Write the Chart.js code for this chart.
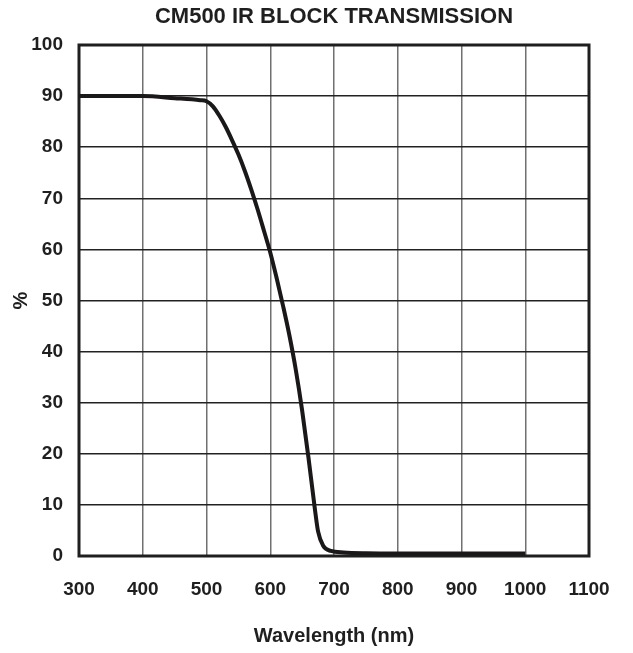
<!DOCTYPE html>
<html>
<head>
<meta charset="utf-8">
<script src="https://cdn.jsdelivr.net/npm/chart.js@4/dist/chart.umd.min.js"></script>
<style>
html,body{margin:0;padding:0;background:#fff;}
#wrap{width:633px;height:653px;position:relative;}
</style>
</head>
<body>
<div id="wrap"><canvas id="c" width="633" height="653"></canvas></div>
<script>
const titleText = "CM500 IR BLOCK TRANSMISSION";
const xTitle = "Wavelength (nm)";
const yTitle = "%";
const wavelengths = [300, 400, 450, 490, 500, 510, 520, 530, 540, 550, 560, 570, 580, 590, 600, 610, 620, 630, 640, 650, 660, 670, 675, 683, 695, 715, 750, 800, 900, 1000];
const transmission = [90, 90, 89.6, 89.2, 89.0, 88.0, 86.2, 84.0, 81.4, 78.6, 75.4, 71.8, 67.9, 63.7, 59.4, 54.4, 49.0, 43.2, 36.5, 28.5, 19.2, 9.2, 4.8, 2.0, 1.0, 0.7, 0.55, 0.5, 0.5, 0.5];
const xMin = 300, xMax = 1100, xStep = 100;
const yMin = 0, yMax = 100, yStep = 10;

const FONT = "'Liberation Sans', Arial, Helvetica, sans-serif";
const INK = '#1f1f1f';

const framePlugin = {
  id: 'frame',
  beforeDatasetsDraw(chart) {
    const {ctx, chartArea: a} = chart;
    ctx.save();
    ctx.strokeStyle = INK;
    ctx.lineWidth = 3;
    ctx.strokeRect(a.left, a.top, a.right - a.left, a.bottom - a.top);
    ctx.restore();
  }
};

const titlePlugin = {
  id: 'centerTitle',
  afterDraw(chart) {
    const {ctx, chartArea: a} = chart;
    ctx.save();
    ctx.fillStyle = INK;
    ctx.font = "bold 22px " + FONT;
    ctx.textAlign = 'center';
    ctx.textBaseline = 'middle';
    ctx.fillText(titleText, (a.left + a.right) / 2, 17);
    ctx.restore();
  }
};

new Chart(document.getElementById('c'), {
  type: 'line',
  data: {
    datasets: [{
      data: wavelengths.map((w, i) => ({x: w, y: transmission[i]})),
      borderColor: '#1a1818',
      borderWidth: 4,
      pointRadius: 0,
      cubicInterpolationMode: 'monotone',
      fill: false,
      clip: false
    }]
  },
  options: {
    responsive: false,
    animation: false,
    devicePixelRatio: 1,
    layout: {padding: {top: 45, left: 0, right: 44, bottom: 0}},
    plugins: {
      legend: {display: false},
      tooltip: {enabled: false},
      title: {display: false}
    },
    scales: {
      x: {
        type: 'linear',
        min: xMin, max: xMax,
        afterFit(s) { s.height = 97; },
        ticks: {stepSize: xStep, color: INK, padding: 22, maxRotation: 0,
                callback: v => String(v),
                font: {family: FONT, size: 19, weight: 'bold'}},
        grid: {color: '#707070', lineWidth: 1.5, drawTicks: false},
        border: {display: false},
        title: {display: true, text: xTitle, color: INK,
                font: {family: FONT, size: 20, weight: 'bold'},
                padding: {top: 0, bottom: 5}}
      },
      y: {
        type: 'linear',
        min: yMin, max: yMax,
        afterFit(s) { s.width = 79; },
        ticks: {stepSize: yStep, color: INK, padding: 16,
                callback: v => String(v),
                font: {family: FONT, size: 19, weight: 'bold'}},
        grid: {color: '#222', lineWidth: 1.5, drawTicks: false},
        border: {display: false},
        title: {display: true, text: yTitle, color: INK,
                font: {family: FONT, size: 20, weight: 'bold'},
                padding: {top: 9, bottom: 0}}
      }
    }
  },
  plugins: [framePlugin, titlePlugin]
});
</script>
</body>
</html>
